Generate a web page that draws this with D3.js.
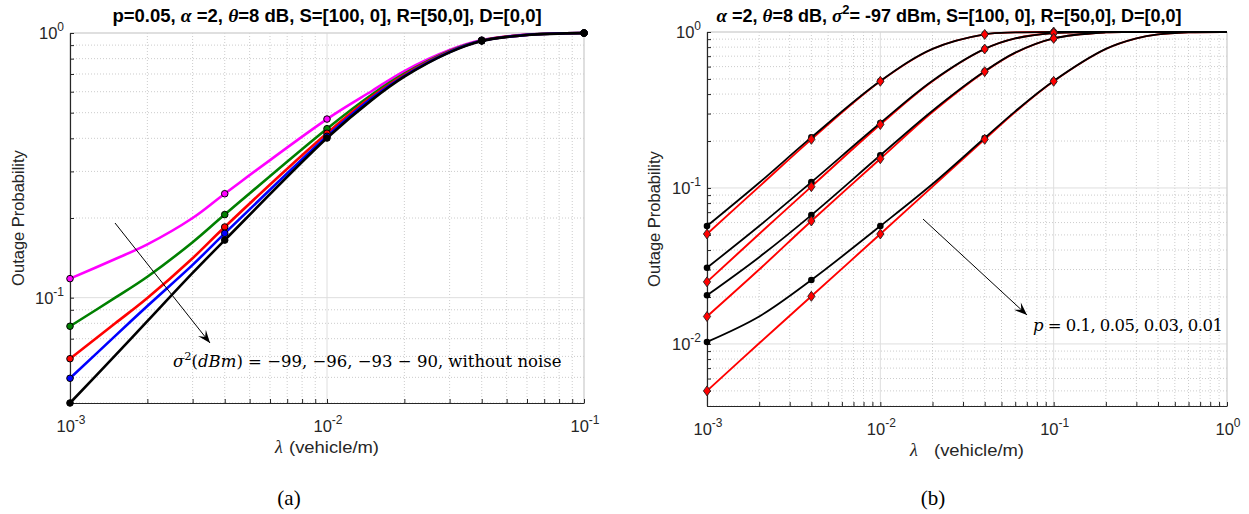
<!DOCTYPE html>
<html><head><meta charset="utf-8">
<script src="https://cdn.jsdelivr.net/npm/d3@7"></script>
<style>body{margin:0;background:#fff} svg{display:block}</style>
</head><body>
<svg id="c" width="1249" height="514"></svg>
<script>
// ---------- Data (a) ----------
const lamA = [0.001, 0.0015, 0.002, 0.003, 0.004, 0.01, 0.015, 0.02, 0.03, 0.04, 0.06, 0.1];
const markLamA = [0.001, 0.004, 0.01, 0.04, 0.1];
const sigmaMagenta = [0.118, 0.140, 0.159, 0.200, 0.247, 0.473, 0.605, 0.718, 0.862, 0.940, 0.986, 1.0];
const sigmaGreen   = [0.078, 0.100, 0.120, 0.162, 0.206, 0.435, 0.587, 0.702, 0.855, 0.937, 0.985, 1.0];
const sigmaRed     = [0.0588, 0.080, 0.0997, 0.141, 0.185, 0.418, 0.576, 0.695, 0.851, 0.935, 0.984, 1.0];
const sigmaBlue    = [0.0496, 0.0717, 0.093, 0.133, 0.175, 0.407, 0.569, 0.689, 0.848, 0.934, 0.984, 1.0];
const noNoise      = [0.040, 0.0605, 0.0815, 0.124, 0.165, 0.401, 0.560, 0.684, 0.845, 0.933, 0.983, 0.999];
const colorsA = ["#ff00ff", "#008000", "#ff0000", "#0000ff", "#000000"];

// ---------- Data (b) ----------
const lamB = [0.001, 0.002, 0.004, 0.01, 0.02, 0.04, 0.06, 0.1, 0.2, 0.3, 0.4, 0.6, 1];
const markLamB = [0.001, 0.004, 0.01, 0.04, 0.1];
const redP010 = [0.0507, 0.102, 0.205, 0.483, 0.778, 0.965, 0.994, 1, 1, 1, 1, 1, 1];
const redP005 = [0.025, 0.0507, 0.102, 0.255, 0.483, 0.778, 0.91, 0.985, 1, 1, 1, 1, 1];
const redP003 = [0.015, 0.030, 0.0614, 0.154, 0.307, 0.557, 0.735, 0.91, 0.994, 0.999, 1, 1, 1];
const redP001 = [0.005, 0.0101, 0.0202, 0.0507, 0.102, 0.205, 0.307, 0.483, 0.778, 0.91, 0.965, 0.994, 1];
const blkP010 = [0.057, 0.108, 0.211, 0.485, 0.779, 0.966, 0.994, 1, 1, 1, 1, 1, 1];
const blkP005 = [0.0308, 0.057, 0.109, 0.261, 0.487, 0.779, 0.91, 0.985, 1, 1, 1, 1, 1];
const blkP003 = [0.0205, 0.036, 0.067, 0.162, 0.313, 0.560, 0.737, 0.91, 0.994, 0.999, 1, 1, 1];
const blkP001 = [0.0103, 0.015, 0.0257, 0.057, 0.106, 0.209, 0.31, 0.485, 0.779, 0.91, 0.965, 0.994, 1];

// ---------- Axis tick labels ----------
const xTicksA = [{v:0.001, e:"-3"}, {v:0.01, e:"-2"}, {v:0.1, e:"-1"}];
const yTicksA = [{v:1, e:"0"}, {v:0.1, e:"-1"}];
const xTicksB = [{v:0.001, e:"-3"}, {v:0.01, e:"-2"}, {v:0.1, e:"-1"}, {v:1, e:"0"}];
const yTicksB = [{v:1, e:"0"}, {v:0.1, e:"-1"}, {v:0.01, e:"-2"}];

const svg = d3.select("#c");
const SANS = "'Liberation Sans', Arial, sans-serif";
const SERIF = "'Liberation Serif', 'Times New Roman', serif";
const MATH = "'DejaVu Serif', serif";
const TXT = "#262626";

function allLogTicks(dom) {
  const out = [];
  const lo = Math.floor(Math.log10(dom[0]) + 1e-9), hi = Math.ceil(Math.log10(dom[1]) - 1e-9);
  for (let d = lo; d <= hi; d++) for (let k = 1; k <= 9; k++) {
    const v = k * Math.pow(10, d);
    if (v >= dom[0] * 0.9999 && v <= dom[1] * 1.0001) out.push(v);
  }
  return out;
}
const isDecade = v => Math.abs(Math.log10(v) - Math.round(Math.log10(v))) < 1e-6;

function panel(c) {
  const g = svg.append("g");
  const x = d3.scaleLog().domain(c.xd).range([c.x0, c.x1]);
  const y = d3.scaleLog().domain(c.yd).range([c.y1, c.y0]);
  const xt = allLogTicks(c.xd), yt = allLogTicks(c.yd);
  const grid = g.append("g");
  xt.forEach(v => {
    grid.append("line").attr("x1", x(v)).attr("x2", x(v)).attr("y1", c.y0).attr("y2", c.y1)
      .attr("stroke", isDecade(v) ? "#dedede" : "#cccccc")
      .attr("stroke-dasharray", isDecade(v) ? null : "1,2").attr("stroke-width", 1);
  });
  yt.forEach(v => {
    grid.append("line").attr("y1", y(v)).attr("y2", y(v)).attr("x1", c.x0).attr("x2", c.x1)
      .attr("stroke", isDecade(v) ? "#dedede" : "#cccccc")
      .attr("stroke-dasharray", isDecade(v) ? null : "1,2").attr("stroke-width", 1);
  });
  g.append("line").attr("x1", c.x0).attr("x2", c.x1).attr("y1", c.y0).attr("y2", c.y0).attr("stroke", "#cfcfcf");
  g.append("line").attr("x1", c.x1).attr("x2", c.x1).attr("y1", c.y0).attr("y2", c.y1).attr("stroke", "#cfcfcf");
  const ax = d3.axisBottom(x).tickValues(xt).tickSizeInner(-4).tickSizeOuter(0).tickFormat("");
  const ay = d3.axisLeft(y).tickValues(yt).tickSizeInner(-4).tickSizeOuter(0).tickFormat("");
  const gx = g.append("g").attr("transform", `translate(0,${c.y1})`).call(ax);
  const gy = g.append("g").attr("transform", `translate(${c.x0},0)`).call(ay);
  [gx, gy].forEach(a => { a.selectAll("path,line").attr("stroke", "#262626"); a.select(".domain").attr("stroke-width", 1.2); });
  c.xTicks.forEach(t => {
    const tx = g.append("text").attr("x", x(t.v) + 1).attr("y", c.y1 + 29).attr("text-anchor", "middle")
      .attr("font-family", SANS).attr("font-size", 16.5).attr("fill", TXT);
    tx.append("tspan").text("10");
    tx.append("tspan").attr("dy", -8).attr("font-size", 12).text(t.e);
  });
  c.yTicks.forEach(t => {
    const tx = g.append("text").attr("x", c.x0 - 6).attr("y", y(t.v) + 6).attr("text-anchor", "end")
      .attr("font-family", SANS).attr("font-size", 16.5).attr("fill", TXT);
    tx.append("tspan").text("10");
    tx.append("tspan").attr("dy", -8).attr("font-size", 12).text(t.e);
  });
  // x label: lambda + (vehicle/m)
  const cx = (c.x0 + c.x1) / 2;
  g.append("text").attr("x", cx - 52 - c.lamGap).attr("y", c.y1 + 50).attr("font-family", SERIF)
    .attr("font-style", "italic").attr("font-size", 18).attr("fill", TXT).text("λ");
  g.append("text").attr("x", cx - 38 + (c.lamGap > 0 ? 5 : 0)).attr("y", c.y1 + 50).attr("font-family", SANS)
    .attr("font-size", 17).attr("fill", TXT).attr("textLength", 90).attr("lengthAdjust", "spacingAndGlyphs")
    .text("(vehicle/m)");
  g.append("text").attr("transform", `translate(${c.ylx},${(c.y0 + c.y1) / 2}) rotate(-90)`)
    .attr("text-anchor", "middle").attr("font-family", SANS).attr("font-size", 16.5).attr("fill", TXT)
    .text("Outage Probability");
  return {g, x, y};
}

function drawArrow(g, x1, y1, x2, y2) {
  g.append("line").attr("x1", x1).attr("y1", y1).attr("x2", x2).attr("y2", y2).attr("stroke", "#000").attr("stroke-width", 1);
  const a = Math.atan2(y2 - y1, x2 - x1), L = 13, W = 5;
  const bx = x2 - L * Math.cos(a), by = y2 - L * Math.sin(a);
  const nx = -Math.sin(a), ny = Math.cos(a);
  const mx = x2 - (L * 0.6) * Math.cos(a), my = y2 - (L * 0.6) * Math.sin(a);
  g.append("path").attr("d", `M${x2},${y2}L${bx + nx * W},${by + ny * W}L${mx},${my}L${bx - nx * W},${by - ny * W}Z`)
    .attr("fill", "#000");
}

// ---------- Panel (a) ----------
const A = panel({x0: 70, x1: 584, y0: 33, y1: 403, xd: [0.001, 0.1], yd: [0.04, 1],
  xTicks: xTicksA, yTicks: yTicksA, ylx: 24, lamGap: 0});
const seriesA = [sigmaMagenta, sigmaGreen, sigmaRed, sigmaBlue, noNoise];
const lineA = d3.line().x(d => A.x(d[0])).y(d => A.y(d[1])).curve(d3.curveCatmullRom.alpha(0.5));
seriesA.forEach((s, i) => {
  A.g.append("path").datum(lamA.map((l, j) => [l, s[j]])).attr("d", lineA)
    .attr("fill", "none").attr("stroke", colorsA[i]).attr("stroke-width", 2.6);
});
seriesA.forEach((s, i) => {
  const pts = lamA.map((l, j) => [l, s[j]]).filter(p => markLamA.some(m => Math.abs(m - p[0]) < 1e-9));
  A.g.selectAll(null).data(pts).enter().append("circle")
    .attr("cx", d => A.x(d[0])).attr("cy", d => A.y(d[1])).attr("r", 3.3)
    .attr("fill", colorsA[i]).attr("stroke", "#000").attr("stroke-width", 1);
});
drawArrow(A.g, 115, 223, 210, 343);
const annA = A.g.append("text").attr("x", 173).attr("y", 367).attr("font-family", MATH).attr("font-size", 16.5).attr("fill", "#000");
annA.append("tspan").attr("font-style", "italic").text("σ");
annA.append("tspan").attr("dy", -7).attr("font-size", 11.5).text("2");
annA.append("tspan").attr("dy", 7).text("(");
annA.append("tspan").attr("font-style", "italic").text("dBm");
annA.append("tspan").text(") = −99, −96, −93 − 90, without noise");
const tA = svg.append("text").attr("x", 327).attr("y", 22).attr("text-anchor", "middle")
  .attr("font-family", SANS).attr("font-size", 18.5).attr("font-weight", "bold").attr("fill", "#000");
tA.append("tspan").text("p=0.05, ");
tA.append("tspan").attr("font-family", SERIF).attr("font-style", "italic").attr("font-size", 19.5).text("α");
tA.append("tspan").text(" =2, ");
tA.append("tspan").attr("font-family", SERIF).attr("font-style", "italic").attr("font-size", 19.5).text("θ");
tA.append("tspan").text("=8 dB, S=[100, 0], R=[50,0], D=[0,0]");

// ---------- Panel (b) ----------
const B = panel({x0: 707, x1: 1227, y0: 32, y1: 406, xd: [0.001, 1], yd: [0.004, 1],
  xTicks: xTicksB, yTicks: yTicksB, ylx: 660, lamGap: 5});
const lineB = d3.line().x(d => B.x(d[0])).y(d => B.y(d[1])).curve(d3.curveCatmullRom.alpha(0.5));
const redB = [redP010, redP005, redP003, redP001];
const blkB = [blkP010, blkP005, blkP003, blkP001];
redB.forEach(s => B.g.append("path").datum(lamB.map((l, j) => [l, s[j]])).attr("d", lineB)
  .attr("fill", "none").attr("stroke", "#ff0000").attr("stroke-width", 1.9));
blkB.forEach(s => B.g.append("path").datum(lamB.map((l, j) => [l, s[j]])).attr("d", lineB)
  .attr("fill", "none").attr("stroke", "#000").attr("stroke-width", 1.8));
const isMarkB = p => markLamB.some(m => Math.abs(m - p[0]) < 1e-9);
blkB.forEach(s => {
  const pts = lamB.map((l, j) => [l, s[j]]).filter(isMarkB);
  B.g.selectAll(null).data(pts).enter().append("circle")
    .attr("cx", d => B.x(d[0])).attr("cy", d => B.y(d[1])).attr("r", 3.3).attr("fill", "#000");
});
redB.forEach(s => {
  const pts = lamB.map((l, j) => [l, s[j]]).filter(isMarkB);
  B.g.selectAll(null).data(pts).enter().append("path")
    .attr("d", d => { const cx = B.x(d[0]), cy = B.y(d[1]); return `M${cx},${cy - 5}L${cx + 3.6},${cy}L${cx},${cy + 5}L${cx - 3.6},${cy}Z`; })
    .attr("fill", "#ff0000").attr("stroke", "#222").attr("stroke-width", 0.9);
});
drawArrow(B.g, 923, 219, 1027, 315);
const annB = B.g.append("text").attr("x", 1033).attr("y", 331).attr("font-family", MATH).attr("font-size", 16.5)
  .attr("fill", "#000").attr("textLength", 190).attr("lengthAdjust", "spacing");
annB.append("tspan").attr("font-style", "italic").text("p");
annB.append("tspan").text(" = 0.1, 0.05, 0.03, 0.01");
const tB = svg.append("text").attr("x", 949).attr("y", 22).attr("text-anchor", "middle")
  .attr("font-family", SANS).attr("font-size", 18).attr("font-weight", "bold").attr("fill", "#000");
tB.append("tspan").attr("font-family", SERIF).attr("font-style", "italic").attr("font-size", 19).text("α");
tB.append("tspan").text(" =2, ");
tB.append("tspan").attr("font-family", SERIF).attr("font-style", "italic").attr("font-size", 19).text("θ");
tB.append("tspan").text("=8 dB, ");
tB.append("tspan").attr("font-family", SERIF).attr("font-style", "italic").attr("font-size", 19).text("σ");
tB.append("tspan").attr("dy", -8).attr("font-size", 13).text("2");
tB.append("tspan").attr("dy", 8).text("= -97 dBm, S=[100, 0], R=[50,0], D=[0,0]");

svg.append("text").attr("x", 289).attr("y", 505).attr("text-anchor", "middle").attr("font-family", SERIF).attr("font-size", 21).text("(a)");
svg.append("text").attr("x", 933).attr("y", 505).attr("text-anchor", "middle").attr("font-family", SERIF).attr("font-size", 21).text("(b)");
</script>
</body></html>
